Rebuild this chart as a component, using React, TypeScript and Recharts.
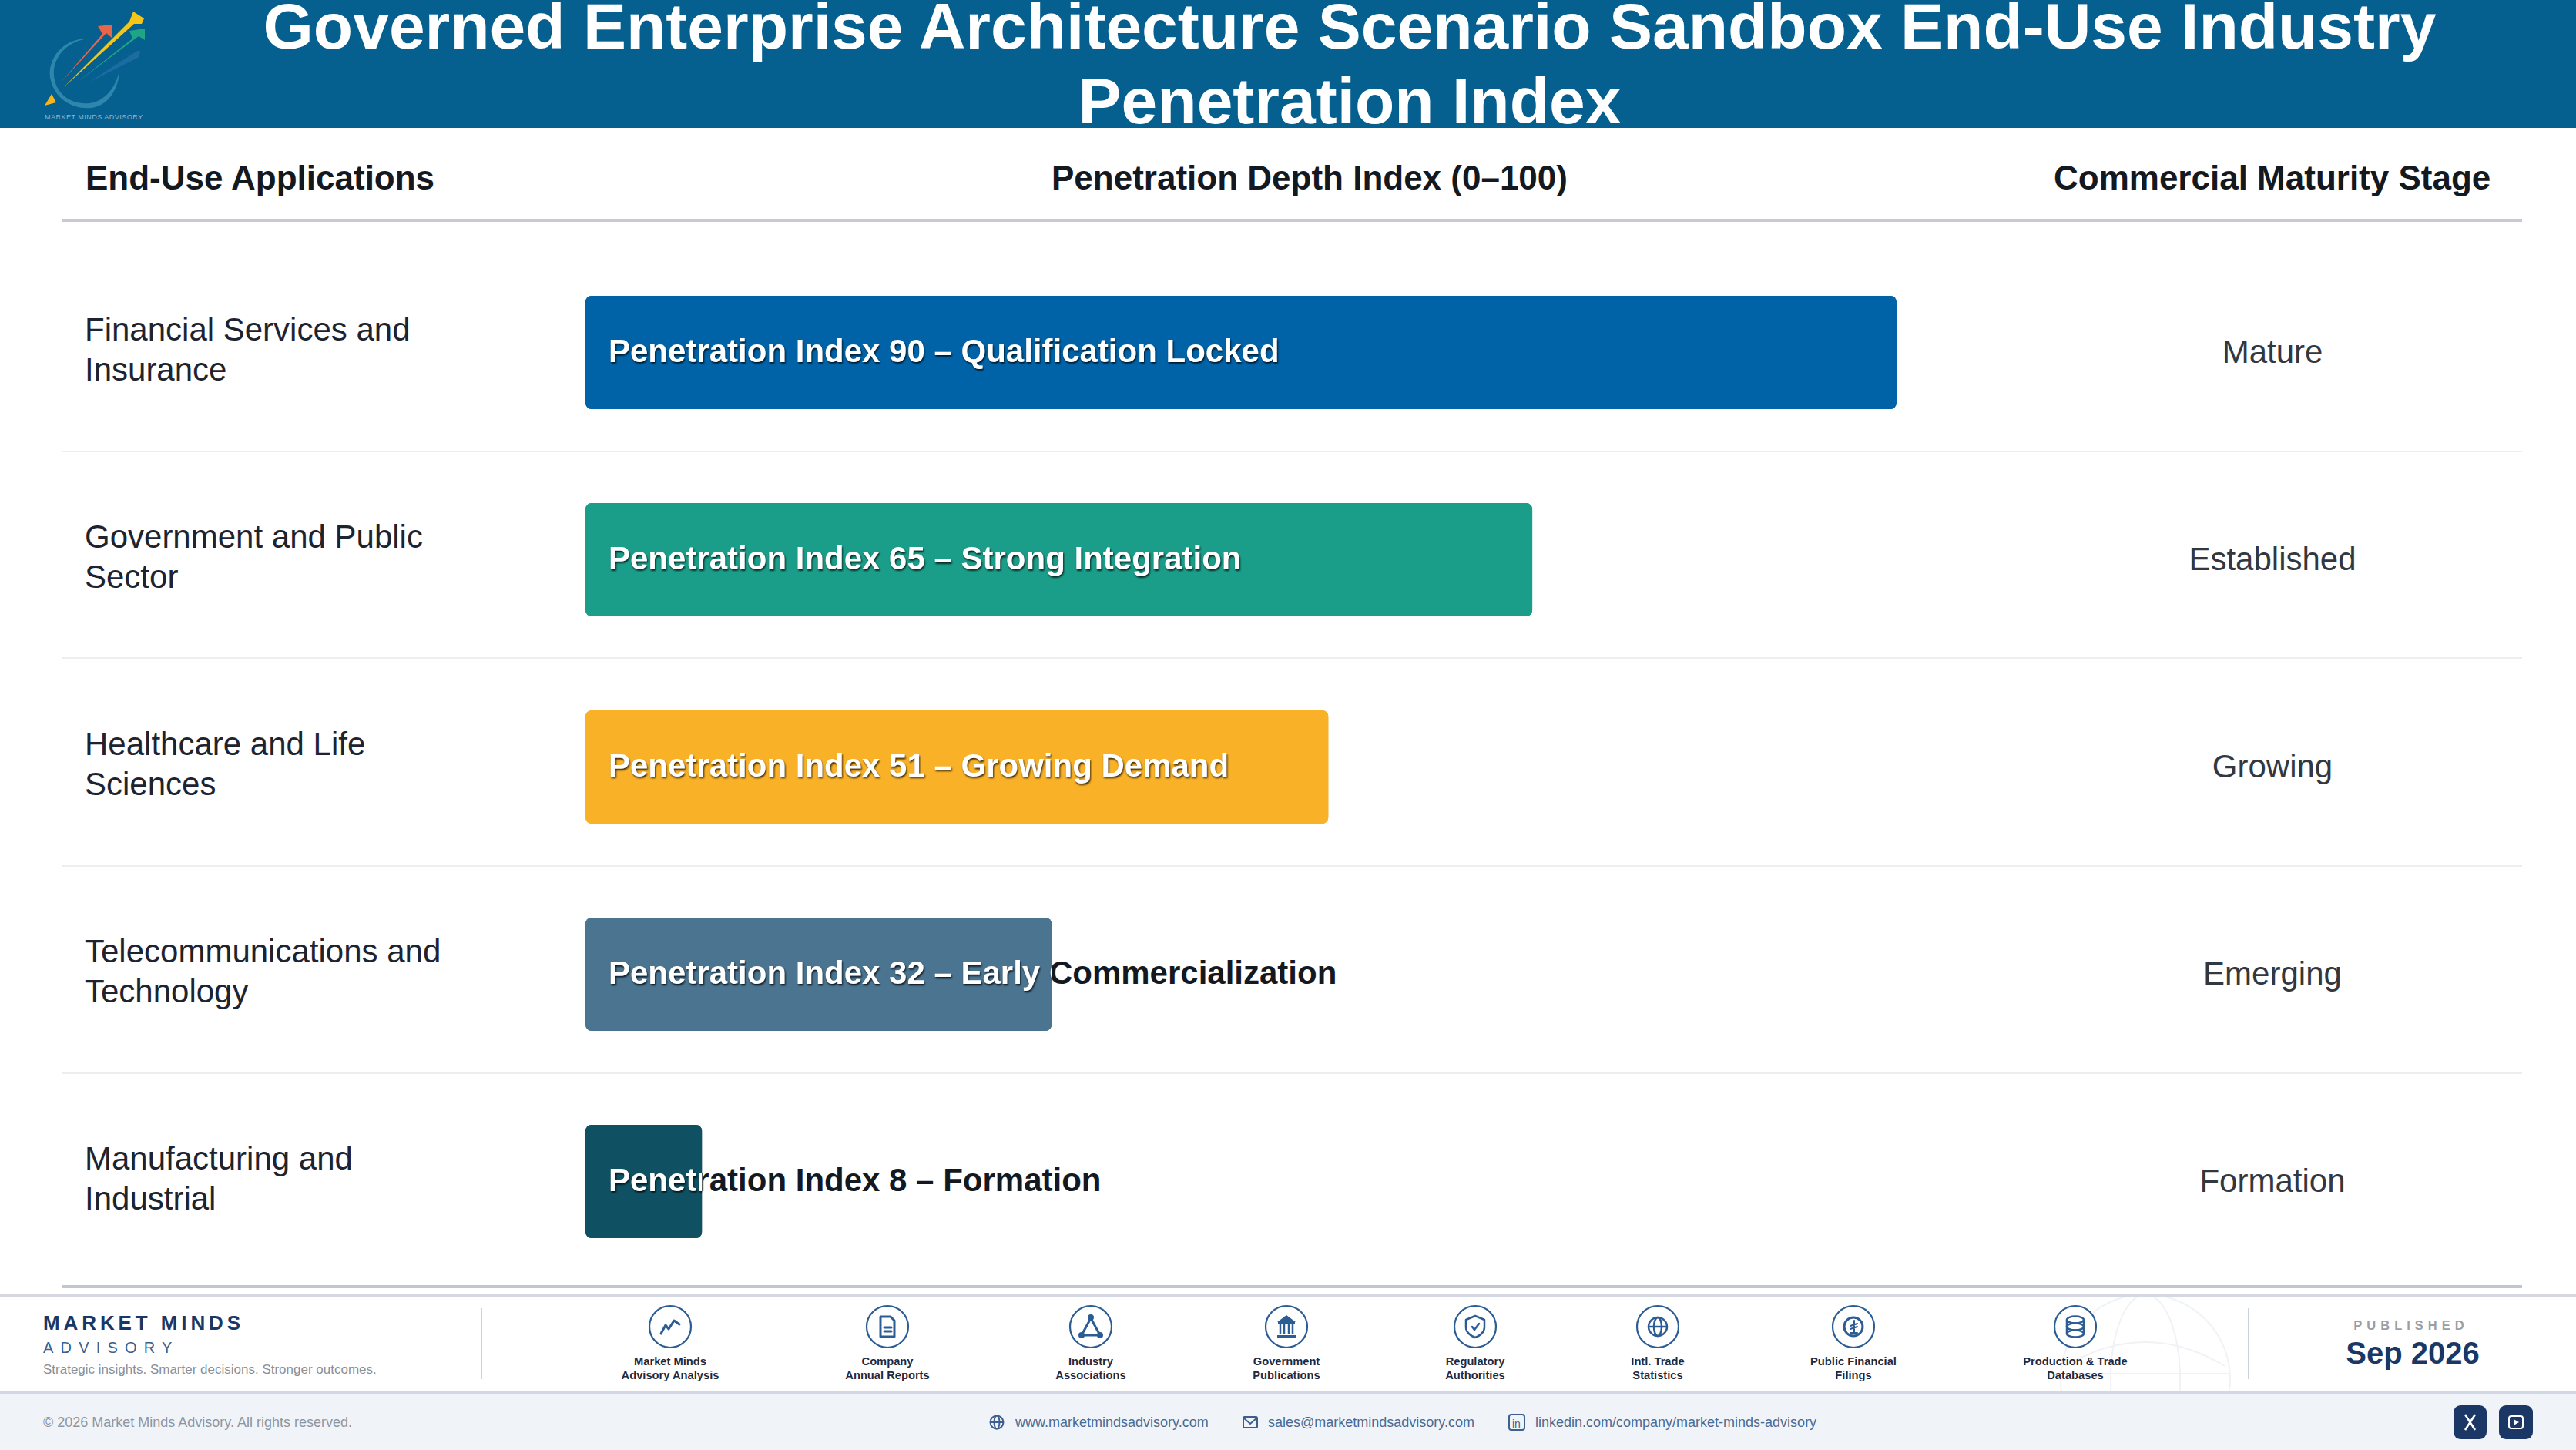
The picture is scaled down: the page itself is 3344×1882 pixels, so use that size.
import { BarChart, Bar, XAxis, YAxis, Cell, LabelList } from 'recharts'

const W = 3344
const H = 1882

const categories = [
    ['Financial Services and', 'Insurance'],
    ['Government and Public', 'Sector'],
    ['Healthcare and Life', 'Sciences'],
    ['Telecommunications and', 'Technology'],
    ['Manufacturing and', 'Industrial'],
]
const values = [90, 65, 51, 32, 8]
const notes = [
    'Qualification Locked',
    'Strong Integration',
    'Growing Demand',
    'Early Commercialization',
    'Formation',
]
const stages = ['Mature', 'Established', 'Growing', 'Emerging', 'Formation']
const colors = ['#0063a8', '#1a9e8a', '#f9b128', '#4a7490', '#0f5163']

const sources = [
    ['Market Minds', 'Advisory Analysis'],
    ['Company', 'Annual Reports'],
    ['Industry', 'Associations'],
    ['Government', 'Publications'],
    ['Regulatory', 'Authorities'],
    ['Intl. Trade', 'Statistics'],
    ['Public Financial', 'Filings'],
    ['Production & Trade', 'Databases'],
]
const sourceX = [870, 1152, 1416, 1670, 1915, 2152, 2406, 2694]

const data = categories.map((c, i) => ({
    name: c.join(' '),
    value: values[i],
    stage: stages[i],
}))

const FONT = '"Liberation Sans", Arial, sans-serif'
const INK = '#1d2430'
const NAVY = '#1a3766'
const ICON = '#2b5c94'

const abs = (x: number, y: number, extra: React.CSSProperties = {}): React.CSSProperties => ({
    position: 'absolute',
    left: x,
    top: y,
    whiteSpace: 'nowrap',
    fontFamily: FONT,
    ...extra,
})

function CategoryTick({ y, index }: any) {
    const lines = categories[index]
    return (
        <text x={110} y={y} fontFamily={FONT} fontSize={42} fill={INK}>
            <tspan x={110} dy={-16}>{lines[0]}</tspan>
            <tspan x={110} dy={52}>{lines[1]}</tspan>
        </text>
    )
}

function StageTick({ y, index }: any) {
    return (
        <text x={2950} y={y} dy={13} textAnchor="middle" fontFamily={FONT} fontSize={42} fill="#33383f">
            {stages[index]}
        </text>
    )
}

// dark copy of the text sits under the bar, white copy is clipped to the bar
function BarText({ x, y, width, height, index }: any) {
    const label = `Penetration Index ${values[index]} – ${notes[index]}`
    const id = `bar-clip-${index}`
    const ty = y + height / 2 + 12
    return (
        <g fontFamily={FONT} fontSize={42} fontWeight={700}>
            <clipPath id={id}>
                <rect x={x} y={y} width={width} height={height} />
            </clipPath>
            <text x={x + 30} y={ty} fill="#14181f">{label}</text>
            <g clipPath={`url(#${id})`}>
                <rect x={x} y={y} width={width} height={height} rx={8} fill={colors[index]} />
                <text
                    x={x + 30}
                    y={ty}
                    fill="#ffffff"
                    style={{ filter: 'drop-shadow(1px 2px 1px rgba(0,0,0,0.75))' }}
                >
                    {label}
                </text>
            </g>
        </g>
    )
}

function Icon({ i }: { i: number }) {
    const s = { fill: 'none', stroke: ICON, strokeWidth: 3, strokeLinecap: 'round', strokeLinejoin: 'round' } as const
    if (i === 0) return <path d="M-12 9 L-6 -2 L-2 3 L5 -8 L12 -3" {...s} />
    if (i === 1)
        return (
            <g {...s}>
                <path d="M-9 -13 H4 L9 -8 V13 H-9 Z" />
                <path d="M-4 1 H5 M-4 6 H5" />
            </g>
        )
    if (i === 2)
        return (
            <g {...s}>
                <path d="M0 -11 L-12 11 H12 Z" />
                <circle cx={0} cy={-12} r={2.5} fill={ICON} />
                <circle cx={-12} cy={11} r={2.5} fill={ICON} />
                <circle cx={12} cy={11} r={2.5} fill={ICON} />
            </g>
        )
    if (i === 3)
        return (
            <g>
                <path d="M-12 -6 L0 -15 L12 -6 Z" fill={ICON} />
                <path d="M-8 -3 V10 M-3 -3 V10 M3 -3 V10 M8 -3 V10" stroke={ICON} strokeWidth={2.5} />
                <rect x={-12} y={11} width={24} height={3} fill={ICON} />
                <rect x={-11} y={-6} width={22} height={2} fill={ICON} />
            </g>
        )
    if (i === 4)
        return (
            <g {...s} strokeWidth={2.5}>
                <path d="M0 -14 L12 -9 V1 C12 7 6 12 0 14 C-6 12 -12 7 -12 1 V-9 Z" />
                <path d="M-4 0 L-1 4 L5 -4" />
            </g>
        )
    if (i === 5)
        return (
            <g {...s} strokeWidth={2.5}>
                <circle r={12} />
                <ellipse rx={5} ry={12} />
                <path d="M-12 0 H12" />
            </g>
        )
    if (i === 6)
        return (
            <g {...s}>
                <circle r={12} />
                <path d="M1 -8 V8 M-4 8 H5 M-4 -1 L5 -4 M-4 3 L5 0" strokeWidth={2} />
            </g>
        )
    return (
        <g {...s} strokeWidth={2.5}>
            <ellipse cy={-9} rx={11} ry={4.5} />
            <ellipse cy={0} rx={11} ry={4.5} />
            <ellipse cy={9} rx={11} ry={4.5} />
            <path d="M-11 -9 V9 M11 -9 V9" />
        </g>
    )
}

function Logo() {
    return (
        <svg width={240} height={166} style={{ position: 'absolute', left: 0, top: 0 }}>
            <path d="M117 50 C82 48 62 76 65 100 C70 130 96 142 118 140 C140 138 155 115 155 90 C152 112 136 132 116 134 C92 136 72 122 70 98 C68 74 88 52 117 50 Z" fill="#2f86ad" />
            <path d="M79 107 L133 44 L127 34 L145 32 L145 49 L138 43 Z" fill="#e8654a" />
            <path d="M115 107 L178 66 L182 66 L181 74 Z" fill="#1a6ca3" />
            <path d="M100 107 L172 50 L168 40 L188 37 L188 52 L180 47 Z" fill="#1ea585" />
            <path d="M83 113 L168 28 L173 15 L187 24 L184 31 L174 31 Z" fill="#f5c518" />
            <path d="M58 137 L67 122 L73 133 Z" fill="#f5b51e" />
            <text x={58} y={155} fontFamily={FONT} fontSize={9} fill="#8fb5cc" letterSpacing={0.5}>MARKET MINDS ADVISORY</text>
        </svg>
    )
}

function Header() {
    const titleStyle = { width: 3504, textAlign: 'center', color: '#fff', fontWeight: 700, fontSize: 84, lineHeight: '68px' } as const
    return (
        <>
            <div style={{ position: 'absolute', left: 0, top: 0, width: W, height: 166, background: '#055f8f' }}>
                <Logo />
                <div style={abs(0, 0, titleStyle)}>Governed Enterprise Architecture Scenario Sandbox End-Use Industry</div>
                <div style={abs(0, 97, titleStyle)}>Penetration Index</div>
            </div>
            <div style={abs(111, 206, { fontSize: 44, fontWeight: 700, color: '#14181f' })}>End-Use Applications</div>
            <div style={abs(1365, 206, { width: 670, textAlign: 'center', fontSize: 44, fontWeight: 700, color: '#14181f' })}>
                Penetration Depth Index (0–100)
            </div>
            <div style={abs(2666, 206, { width: 567, textAlign: 'center', fontSize: 44, fontWeight: 700, color: '#14181f' })}>
                Commercial Maturity Stage
            </div>
            <div style={{ position: 'absolute', left: 80, top: 284, width: 3194, height: 4, background: '#c8c9d2' }} />
        </>
    )
}

function Footer() {
    return (
        <>
            <div style={{ position: 'absolute', left: 80, top: 1668, width: 3194, height: 4, background: '#c4c5ce' }} />
            <div style={{ position: 'absolute', left: 0, top: 1680, width: W, height: 3, background: '#d5d7e2' }} />
            <div style={{ position: 'absolute', left: 0, top: 1806, width: W, height: 76, background: '#f0f4f9', borderTop: '3px solid #d3d7e3', boxSizing: 'border-box' }} />
            <svg width={W} height={H} style={{ position: 'absolute', left: 0, top: 0, pointerEvents: 'none' }}>
                <defs>
                    <clipPath id="globe-clip">
                        <rect x={2600} y={1683} width={400} height={123} />
                    </clipPath>
                </defs>
                <g clipPath="url(#globe-clip)" fill="none" stroke="#f0f2f5" strokeWidth={2}>
                    <circle cx={2785} cy={1790} r={110} />
                    <ellipse cx={2785} cy={1790} rx={45} ry={110} />
                    <path d="M2675 1783 H2895" />
                    <path d="M2681 1773 Q2785 1711 2888 1773" />
                </g>
                <line x1={625} y1={1698} x2={625} y2={1790} stroke="#ccd3dc" strokeWidth={2} />
                <line x1={2919} y1={1698} x2={2919} y2={1790} stroke="#ccd3dc" strokeWidth={2} />
                {sourceX.map((x, i) => (
                    <g key={i} transform={`translate(${x},1722)`}>
                        <circle r={27} fill="#fff" stroke={ICON} strokeWidth={2.2} />
                        <Icon i={i} />
                    </g>
                ))}
                {/* contact icons */}
                <g fill="none" stroke="#3c5f8f" strokeWidth={2}>
                    <circle cx={1294} cy={1846} r={8.5} />
                    <ellipse cx={1294} cy={1846} rx={3.5} ry={8.5} />
                    <path d="M1285 1846 H1303" />
                    <rect x={1614} y={1839} width={18} height={14} rx={1.5} />
                    <path d="M1614 1840 L1623 1848 L1632 1840" />
                    <rect x={1959} y={1836} width={20} height={20} rx={3} />
                </g>
                <text x={1963} y={1853} fontFamily={FONT} fontSize={14} fill="#3c5f8f">in</text>
                <rect x={3185} y={1824} width={43} height={44} rx={9} fill={NAVY} />
                <rect x={3244} y={1824} width={44} height={44} rx={9} fill={NAVY} />
                <path d="M3200 1836 L3213 1856 M3213 1836 L3200 1856" stroke="#fff" strokeWidth={2.5} />
                <rect x={3257} y={1838} width={18} height={16} rx={3} fill="none" stroke="#fff" strokeWidth={2} />
                <path d="M3263 1842 L3270 1846 L3263 1850 Z" fill="#fff" />
            </svg>

            <div style={abs(56, 1702, { fontSize: 26, fontWeight: 700, color: NAVY, letterSpacing: 4.9 })}>MARKET MINDS</div>
            <div style={abs(56, 1738, { fontSize: 20, color: '#3c5f8f', letterSpacing: 9.2 })}>ADVISORY</div>
            <div style={abs(56, 1768, { fontSize: 17, color: '#8a9099' })}>Strategic insights. Smarter decisions. Stronger outcomes.</div>
            {sources.map((s, i) => (
                <div key={i} style={abs(sourceX[i] - 100, 1758, { width: 200, textAlign: 'center', fontSize: 14.7, lineHeight: '18px', fontWeight: 700, color: '#1f2a40' })}>
                    <div>{s[0]}</div>
                    <div>{s[1]}</div>
                </div>
            ))}
            <div style={abs(3030, 1711, { width: 200, textAlign: 'center', fontSize: 16.5, fontWeight: 700, color: '#9a9ea5', letterSpacing: 6 })}>PUBLISHED</div>
            <div style={abs(3032, 1734, { width: 200, textAlign: 'center', fontSize: 40, fontWeight: 700, color: NAVY })}>Sep 2026</div>
            <div style={abs(56, 1836, { fontSize: 18, color: '#8f96a0' })}>© 2026 Market Minds Advisory. All rights reserved.</div>
            <div style={abs(1318, 1836, { fontSize: 18, color: '#4a6a94' })}>www.marketmindsadvisory.com</div>
            <div style={abs(1646, 1836, { fontSize: 18, color: '#4a6a94' })}>sales@marketmindsadvisory.com</div>
            <div style={abs(1993, 1836, { fontSize: 18, color: '#4a6a94' })}>linkedin.com/company/market-minds-advisory</div>
        </>
    )
}

export default function App() {
    return (
        <div style={{ position: 'absolute', left: 0, top: 0, width: W, height: H, background: '#fff', overflow: 'hidden' }}>
            <Header />
            <div style={{ position: 'absolute', left: 0, top: 0 }}>
                <BarChart
                    width={W}
                    height={H}
                    layout="vertical"
                    data={data}
                    margin={{ top: 323, right: 0, bottom: 214, left: 0 }}
                    barCategoryGap={61}
                >
                    <XAxis type="number" domain={[0, 100]} hide />
                    <YAxis
                        yAxisId="left"
                        type="category"
                        dataKey="name"
                        orientation="left"
                        width={760}
                        axisLine={false}
                        tickLine={false}
                        tick={<CategoryTick />}
                        interval={0}
                    />
                    <YAxis
                        yAxisId="right"
                        type="category"
                        dataKey="stage"
                        orientation="right"
                        width={693}
                        axisLine={false}
                        tickLine={false}
                        tick={<StageTick />}
                        interval={0}
                    />
                    <Bar yAxisId="left" dataKey="value" radius={8} isAnimationActive={false}>
                        {data.map((_, i) => (
                            <Cell key={i} fill={colors[i]} />
                        ))}
                        <LabelList dataKey="value" content={<BarText />} />
                    </Bar>
                </BarChart>
            </div>
            {[585, 853, 1123, 1392].map(y => (
                <div key={y} style={{ position: 'absolute', left: 80, top: y, width: 3194, height: 2, background: '#eceef1' }} />
            ))}
            <Footer />
        </div>
    )
}
